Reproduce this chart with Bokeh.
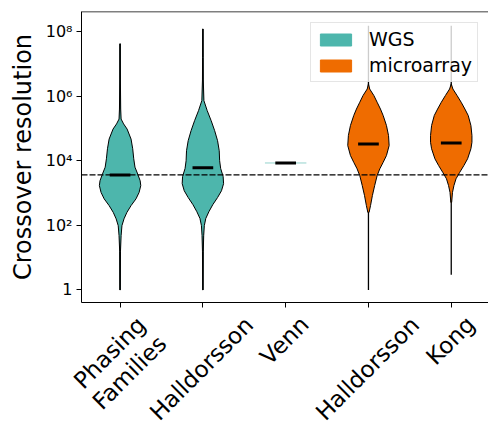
import math
from bokeh.plotting import figure
from bokeh.layouts import column
from bokeh.models import Range1d, FixedTicker, Span, Legend, LegendItem, ColumnDataSource, Div
from bokeh.embed import file_html
from bokeh.resources import INLINE

# ---------------- data ----------------
categories = ["Phasing\nFamilies", "Halldorsson", "Venn", "Halldorsson", "Kong"]
positions = [1, 2, 3, 4, 5]
platforms = ["WGS", "WGS", "WGS", "microarray", "microarray"]

# log10 of crossover resolution
median_log = [3.56, 3.78, 3.93, 4.52, 4.55]
min_log = [0.0, 0.0, 3.93, 0.0, 0.47]
max_log = [7.62, 8.08, 3.93, 8.18, 8.18]
threshold_log = 3.56

# violin density profiles: log10 levels and relative half-widths (max = 1)
v1_log = [0.0, 1.2, 1.68, 1.99, 2.20, 2.40, 2.61, 2.82, 3.02, 3.23, 3.38, 3.59, 3.80, 4.06,
          4.37, 4.67, 4.98, 5.14, 5.29, 5.6, 6.5, 7.62]
v1_w = [0.01, 0.02, 0.05, 0.09, 0.19, 0.33, 0.53, 0.77, 0.92, 1.0, 0.97, 0.85, 0.72, 0.66,
        0.61, 0.53, 0.34, 0.17, 0.05, 0.03, 0.015, 0.01]

v2_log = [0.0, 1.2, 1.68, 1.99, 2.21, 2.42, 2.64, 2.86, 3.07, 3.29, 3.51, 3.76, 4.0, 4.31,
          4.62, 4.93, 5.24, 5.55, 5.86, 6.5, 7.2, 8.08]
v2_w = [0.01, 0.02, 0.04, 0.07, 0.14, 0.29, 0.48, 0.71, 0.9, 1.0, 0.98, 0.86, 0.81, 0.79,
        0.71, 0.57, 0.40, 0.21, 0.05, 0.02, 0.015, 0.01]

v4_log = [2.40, 2.61, 2.92, 3.23, 3.54, 3.75, 3.95, 4.16, 4.47, 4.78, 5.09, 5.40, 5.60,
          5.81, 6.02, 6.22, 6.38]
v4_w = [0.03, 0.10, 0.19, 0.30, 0.42, 0.55, 0.71, 0.87, 1.0, 0.97, 0.87, 0.71, 0.58,
        0.42, 0.26, 0.06, 0.0]

v5_log = [2.71, 3.02, 3.23, 3.44, 3.64, 3.85, 4.06, 4.37, 4.57, 4.78, 5.09, 5.40, 5.60,
          5.81, 6.02, 6.22, 6.38]
v5_w = [0.02, 0.06, 0.13, 0.23, 0.41, 0.61, 0.79, 0.95, 1.0, 1.0, 0.95, 0.82, 0.66,
        0.48, 0.28, 0.08, 0.0]

profiles = {1: (v1_log, v1_w), 2: (v2_log, v2_w), 4: (v4_log, v4_w), 5: (v5_log, v5_w)}

y_ticks = [1, 100, 10000, 1000000, 100000000]
y_tick_labels = ["1", "10²", "10⁴", "10⁶", "10⁸"]

# ---------------- styling ----------------
colors = {"WGS": "#4DB6AC", "microarray": "#EF6C00"}
half_width = 0.25
bar_half = 0.125
FONT = "DejaVu Sans"
X0, X1 = 0.534, 5.45
FRAME_LEFT = 81
PLOT_H = 310
# vertical centre of each rotated tick label, in px below the label strip's top
label_y = [53, 59, 31, 59, 31]

p = figure(width=488, height=PLOT_H, y_axis_type="log",
           x_range=Range1d(X0, X1),
           y_range=Range1d(10 ** -0.39, 10 ** 8.62),
           output_backend="svg", toolbar_location=None,
           min_border_left=FRAME_LEFT, min_border_right=0, min_border_top=11,
           min_border_bottom=8)
p.grid.visible = False
p.outline_line_color = None
p.background_fill_color = "white"
p.border_fill_color = "white"

# extrema lines
for pos, lo, hi in zip(positions, min_log, max_log):
    if hi > lo:
        p.segment(x0=[pos], y0=[10 ** lo], x1=[pos], y1=[10 ** hi],
                  line_color="black", line_width=1.3)

# violins
for pos, plat in zip(positions, platforms):
    if pos in profiles:
        lg, w = profiles[pos]
        xs = [pos + half_width * v for v in w] + [pos - half_width * v for v in reversed(w)]
        ys = [10 ** v for v in lg] + [10 ** v for v in reversed(lg)]
        p.patch(x=xs, y=ys, fill_color=colors[plat], fill_alpha=1.0,
                line_color="black", line_width=1)
    else:
        m = median_log[pos - 1]
        p.segment(x0=[pos - half_width], y0=[10 ** m], x1=[pos + half_width], y1=[10 ** m],
                  line_color=colors[plat], line_alpha=0.6, line_width=1)

# medians
p.segment(x0=[x - bar_half for x in positions], y0=[10 ** m for m in median_log],
          x1=[x + bar_half for x in positions], y1=[10 ** m for m in median_log],
          line_color="black", line_width=3)

# threshold
p.add_layout(Span(location=10 ** threshold_log, dimension="width", line_color="black",
                  line_dash="6 2", line_width=1.3))
# top spine
p.add_layout(Span(location=10 ** 8.62, dimension="width", line_color="black", line_width=1.5))

# legend proxies (not drawn: NaN coordinates)
nan = float("nan")
proxy = ColumnDataSource(data=dict(l=[nan], r=[nan], t=[nan], b=[nan]))
r_wgs = p.quad(left="l", right="r", top="t", bottom="b", source=proxy,
               fill_color=colors["WGS"], line_color=colors["WGS"])
r_ma = p.quad(left="l", right="r", top="t", bottom="b", source=proxy,
              fill_color=colors["microarray"], line_color=colors["microarray"])
legend = Legend(items=[LegendItem(label="WGS", renderers=[r_wgs]),
                       LegendItem(label="microarray", renderers=[r_ma])],
                location=(229, 220), glyph_width=39, glyph_height=15,
                label_standoff=14, padding=5, spacing=4,
                label_text_font_size="19px", label_text_font=FONT, label_text_color="black",
                border_line_color="#cccccc", background_fill_alpha=0.8)
p.add_layout(legend)

# y axis
p.yaxis.ticker = FixedTicker(ticks=y_ticks)
p.yaxis.major_label_overrides = {t: s for t, s in zip(y_ticks, y_tick_labels)}
p.yaxis.axis_label = "Crossover resolution"
p.yaxis.axis_label_text_font_size = "24px"
p.yaxis.axis_label_text_font_style = "normal"
p.yaxis.axis_label_text_font = FONT
p.yaxis.axis_label_text_color = "black"
p.yaxis.axis_label_standoff = 6
p.yaxis.minor_tick_line_color = None
p.yaxis.major_tick_in = 0
p.yaxis.major_tick_out = 5
p.yaxis.major_label_text_font_size = "16px"
p.yaxis.major_label_standoff = 4
p.yaxis.major_label_text_font = FONT
p.yaxis.major_label_text_color = "black"
p.yaxis.axis_line_color = "black"

# x axis: tick marks only (rotated category labels are in the strip below)
p.xaxis.ticker = FixedTicker(ticks=positions)
p.xaxis.major_label_overrides = {t: "" for t in positions}
p.xaxis.major_label_text_font_size = "1px"
p.xaxis.major_label_standoff = 0
p.xaxis.minor_tick_line_color = None
p.xaxis.major_tick_in = 0
p.xaxis.major_tick_out = 5
p.xaxis.axis_line_color = "black"

# label strip: real HTML text rotated by 45 degrees, centred under each tick
strip_h = 427 - PLOT_H
scale = (488 - FRAME_LEFT) / (X1 - X0)
parts = []
for pos, txt, cy in zip(positions, categories, label_y):
    cx = FRAME_LEFT + (pos - X0) * scale
    html_txt = txt.replace("\n", "<br>")
    parts.append(
        f'<div style="position:absolute;left:{cx:.1f}px;top:{cy}px;'
        f'transform:translate(-50%,-50%) rotate(-45deg);white-space:nowrap;'
        f'text-align:center;line-height:1.2;">{html_txt}</div>')
strip_html = (f'<div style="position:relative;width:488px;height:{strip_h}px;'
              f"font-family:'{FONT}';font-size:23px;color:black;overflow:visible;\">"
              + "".join(parts) + "</div>")
strip = Div(text=strip_html, width=488, height=strip_h, margin=0)

open("out.html", "w").write(file_html(column(p, strip, spacing=0), INLINE))
